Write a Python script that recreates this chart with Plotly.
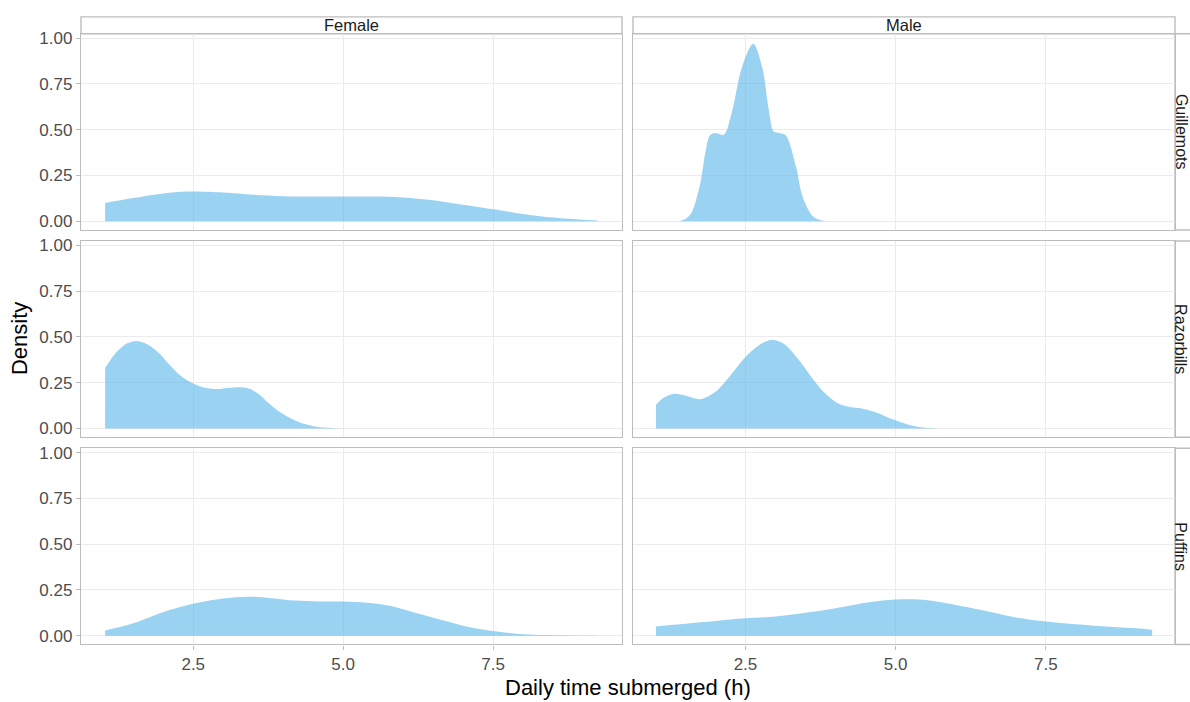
import plotly.graph_objects as go

# ---------------- data ----------------
species = ["Guillemots", "Razorbills", "Puffins"]
sexes = ["Female", "Male"]

x_fem_guil = [1.03, 1.5, 2.0, 2.4, 3.0, 3.5, 4.0, 4.5, 5.0, 5.5, 6.0, 6.5, 7.0, 7.5, 8.0, 8.5, 9.0, 9.24]
d_fem_guil = [0.10, 0.127, 0.152, 0.162, 0.157, 0.145, 0.137, 0.135, 0.135, 0.135, 0.13, 0.115, 0.09, 0.065, 0.04, 0.02, 0.008, 0.004]

x_mal_guil = [1.40, 1.5, 1.6, 1.75, 1.83, 1.91, 2.0, 2.14, 2.28, 2.44, 2.63, 2.78, 2.89, 2.97, 3.06, 3.17, 3.34, 3.45, 3.62, 3.75, 3.85]
d_mal_guil = [0.0, 0.012, 0.045, 0.21, 0.37, 0.47, 0.482, 0.472, 0.605, 0.84, 0.97, 0.84, 0.605, 0.49, 0.482, 0.47, 0.30, 0.135, 0.027, 0.006, 0.0]

x_fem_razo = [1.03, 1.2, 1.4, 1.55, 1.7, 1.9, 2.1, 2.3, 2.5, 2.7, 2.9, 3.1, 3.3, 3.45, 3.6, 3.75, 3.9, 4.1, 4.3, 4.55, 4.8, 5.1]
d_fem_razo = [0.33, 0.41, 0.465, 0.478, 0.465, 0.42, 0.35, 0.285, 0.245, 0.222, 0.215, 0.222, 0.225, 0.215, 0.185, 0.14, 0.10, 0.06, 0.03, 0.01, 0.003, 0.0]

x_mal_razo = [1.01, 1.15, 1.32, 1.5, 1.75, 2.0, 2.25, 2.5, 2.75, 2.95, 3.15, 3.4, 3.6, 3.8, 4.0, 4.2, 4.45, 4.7, 4.95, 5.2, 5.45, 5.7]
d_mal_razo = [0.13, 0.17, 0.19, 0.18, 0.16, 0.20, 0.29, 0.39, 0.46, 0.485, 0.46, 0.37, 0.28, 0.20, 0.145, 0.12, 0.108, 0.085, 0.05, 0.022, 0.005, 0.0]

x_fem_puff = [1.03, 1.5, 2.0, 2.5, 3.0, 3.4, 3.8, 4.2, 4.6, 5.0, 5.4, 5.8, 6.2, 6.6, 7.0, 7.4, 7.8, 8.2, 8.7, 9.24]
d_fem_puff = [0.029, 0.068, 0.13, 0.175, 0.203, 0.213, 0.205, 0.192, 0.187, 0.187, 0.18, 0.162, 0.125, 0.09, 0.055, 0.03, 0.014, 0.005, 0.002, 0.0005]

x_mal_puff = [1.01, 1.5, 2.0, 2.5, 3.0, 3.5, 4.0, 4.5, 5.0, 5.4, 5.8, 6.2, 6.6, 7.0, 7.5, 8.0, 8.5, 9.0, 9.27]
d_mal_puff = [0.05, 0.065, 0.08, 0.095, 0.105, 0.125, 0.15, 0.18, 0.197, 0.197, 0.18, 0.155, 0.128, 0.10, 0.078, 0.062, 0.05, 0.04, 0.032]

x_ticks = [2.5, 5.0, 7.5]
y_ticks = [0.0, 0.25, 0.5, 0.75, 1.0]

panels = {
    (0, 0): (x_fem_guil, d_fem_guil), (0, 1): (x_mal_guil, d_mal_guil),
    (1, 0): (x_fem_razo, d_fem_razo), (1, 1): (x_mal_razo, d_mal_razo),
    (2, 0): (x_fem_puff, d_fem_puff), (2, 1): (x_mal_puff, d_mal_puff),
}

# ---------------- layout geometry (pixels) ----------------
W, H = 1190, 702
col_px = [(81, 622), (633, 1175)]
row_px = [(29, 227), (238, 436), (447, 645)]
strip_top = 12
strip_right = 1196

def px_x(p):
    return p / W

def px_y(p):
    return 1 - p / H

FILL = "rgba(86,180,233,0.6)"
BORDER = "#BDBDBD"
GRID = "#EBEBEB"
FONT = "Liberation Sans, Arial, sans-serif"

fig = go.Figure()
layout = {}
idx = 0
for r in range(3):
    for c in range(2):
        idx += 1
        xs, ys = panels[(r, c)]
        xa = "x" if idx == 1 else f"x{idx}"
        ya = "y" if idx == 1 else f"y{idx}"
        fig.add_trace(go.Scatter(
            x=xs, y=ys, xaxis=xa, yaxis=ya, mode="lines",
            fill="tozeroy", fillcolor=FILL,
            line=dict(width=0, color=FILL, shape="spline", smoothing=0.9),
            hoverinfo="skip", showlegend=False))
        xk = "xaxis" if idx == 1 else f"xaxis{idx}"
        yk = "yaxis" if idx == 1 else f"yaxis{idx}"
        layout[xk] = dict(
            domain=[px_x(col_px[c][0]), px_x(col_px[c][1])], anchor=ya,
            range=[0.628, 9.65], tickvals=x_ticks, tickformat=".1f",
            showticklabels=(r == 2), ticks="outside" if r == 2 else "",
            ticklen=4, tickcolor=BORDER, tickwidth=1.2,
            showgrid=True, gridcolor=GRID, gridwidth=1, zeroline=False,
            showline=True, mirror=True, linecolor=BORDER, linewidth=1.4,
            tickfont=dict(family=FONT, size=17, color="#4D4D4D"), fixedrange=True)
        layout[yk] = dict(
            domain=[px_y(row_px[r][1]), px_y(row_px[r][0])], anchor=xa,
            range=[-0.048, 1.024], tickvals=y_ticks, tickformat=".2f",
            showticklabels=(c == 0), ticks="outside" if c == 0 else "",
            ticklen=4, tickcolor=BORDER, tickwidth=1.2,
            showgrid=True, gridcolor=GRID, gridwidth=1, zeroline=False,
            showline=True, mirror=True, linecolor=BORDER, linewidth=1.4,
            tickfont=dict(family=FONT, size=17, color="#4D4D4D"), fixedrange=True)

shapes = []
annotations = []
# top strips
for c, sex in enumerate(sexes):
    shapes.append(dict(type="rect", xref="paper", yref="paper",
                       x0=px_x(col_px[c][0]), x1=px_x(col_px[c][1]),
                       y0=px_y(row_px[0][0]), y1=px_y(strip_top),
                       line=dict(color=BORDER, width=1.4), fillcolor="white", layer="below"))
    annotations.append(dict(text=sex, xref="paper", yref="paper",
                            x=px_x((col_px[c][0] + col_px[c][1]) / 2),
                            y=px_y((strip_top + row_px[0][0]) / 2),
                            xanchor="center", yanchor="middle", showarrow=False,
                            font=dict(family=FONT, size=16.5, color="#1A1A1A")))
# right strips
for r, sp in enumerate(species):
    shapes.append(dict(type="rect", xref="paper", yref="paper",
                       x0=px_x(col_px[1][1]), x1=px_x(strip_right),
                       y0=px_y(row_px[r][1]), y1=px_y(row_px[r][0]),
                       line=dict(color=BORDER, width=1.4), fillcolor="white", layer="below"))
    annotations.append(dict(text=sp, xref="paper", yref="paper",
                            x=px_x(1181), y=px_y((row_px[r][0] + row_px[r][1]) / 2),
                            xanchor="center", yanchor="middle", showarrow=False,
                            textangle=90, borderpad=0,
                            font=dict(family=FONT, size=16, color="#1A1A1A")))
# axis titles
annotations.append(dict(text="Daily time submerged (h)", xref="paper", yref="paper",
                        x=px_x(628), y=px_y(688), xanchor="center", yanchor="middle",
                        showarrow=False, font=dict(family=FONT, size=22, color="black")))
annotations.append(dict(text="Density", xref="paper", yref="paper",
                        x=px_x(19), y=px_y(337), xanchor="center", yanchor="middle",
                        textangle=-90, showarrow=False,
                        font=dict(family=FONT, size=22, color="black")))

fig.update_layout(
    width=W, height=H, margin=dict(l=0, r=0, t=0, b=0),
    paper_bgcolor="white", plot_bgcolor="white",
    shapes=shapes, annotations=annotations, showlegend=False,
    font=dict(family=FONT), **layout)

fig.write_html("out.html", config={"displayModeBar": False},
               post_script="document.body.style.margin='0';document.body.style.overflow='hidden';")
